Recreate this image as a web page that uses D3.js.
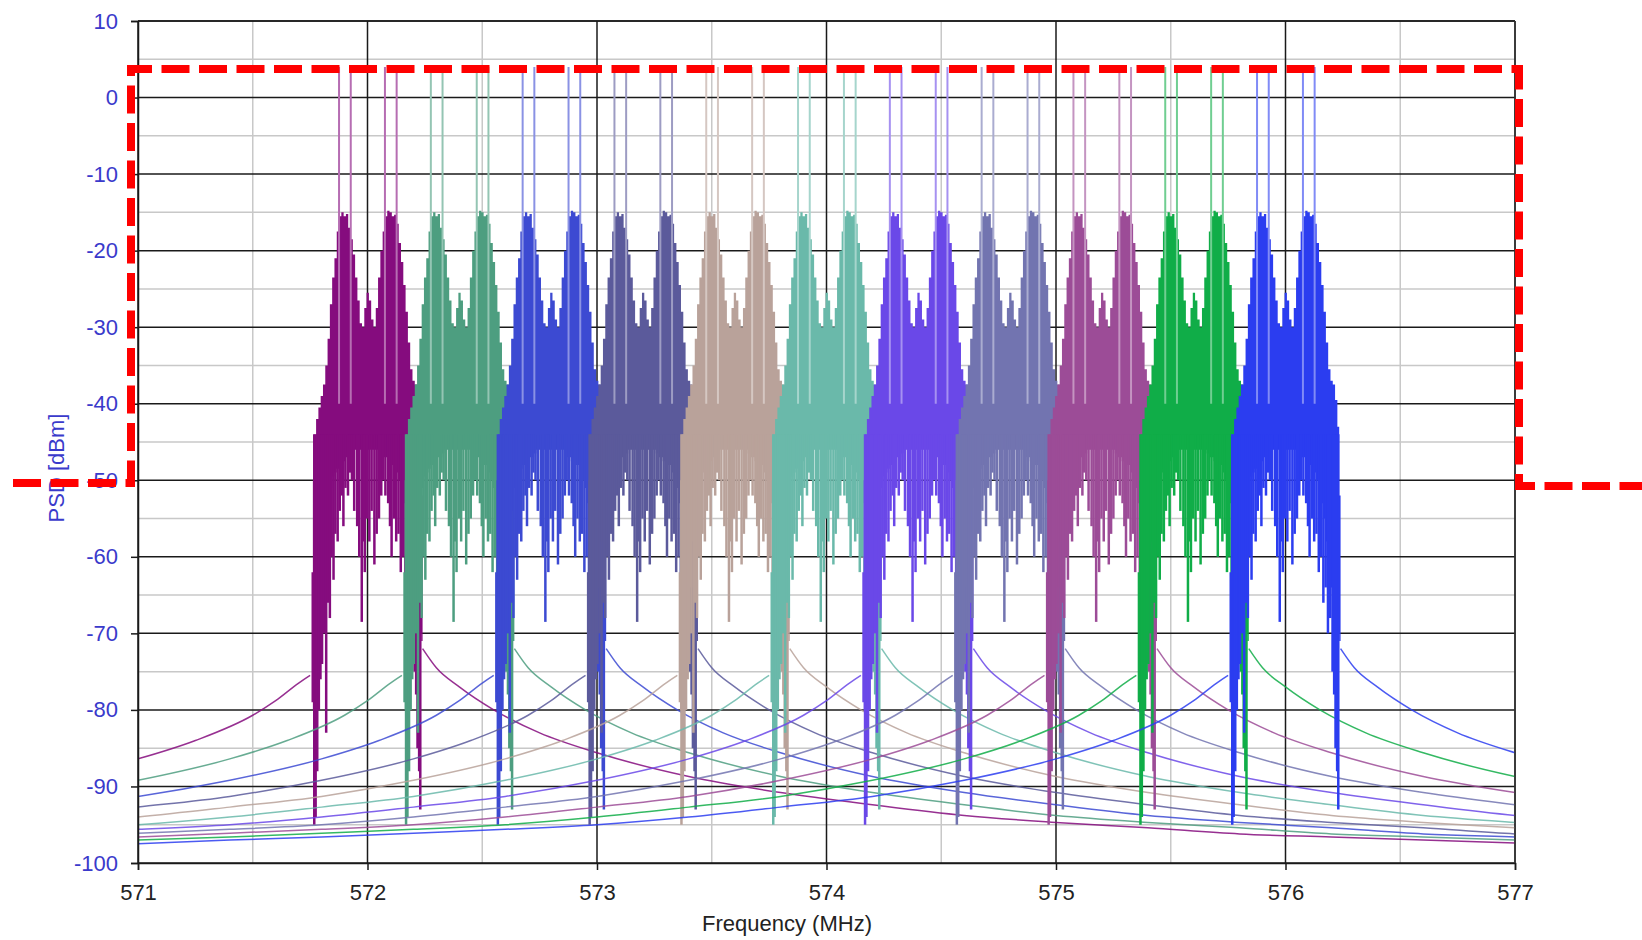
<!DOCTYPE html>
<html>
<head>
<meta charset="utf-8">
<script src="https://cdn.jsdelivr.net/npm/d3@7"></script>
<style>
  html, body { margin: 0; padding: 0; background: #fff; }
  svg { display: block; font-family: Arial, "Liberation Sans", sans-serif; }
</style>
</head>
<body>
<svg id="chart" width="1642" height="940"></svg>
<script>
// channel centres in MHz (one trace per channel)
const channelCenters = [572.0, 572.4, 572.8, 573.2, 573.6, 574.0, 574.4, 574.8, 575.2, 575.6, 576.0]

// occupied band of one channel, offset from its centre (MHz) -> top / floor of the filled trace (dBm)
const bodyOffsets = [-0.250, -0.244, -0.238, -0.232, -0.224, -0.214, -0.204, -0.194, -0.184, -0.174,
  -0.164, -0.154, -0.144, -0.134, -0.124, -0.114, -0.104, -0.094, -0.084, -0.074,
  -0.064, -0.054, -0.044, -0.034, -0.024, -0.014, -0.004, 0.006, 0.016, 0.026,
  0.036, 0.046, 0.056, 0.066, 0.076, 0.086, 0.096, 0.106, 0.116, 0.126,
  0.136, 0.146, 0.156, 0.166, 0.176, 0.186, 0.196, 0.206, 0.216, 0.226, 0.234, 0.240]
const bodyTop = [-75, -62, -50, -45, -42, -40.5, -39, -37.5, -35, -31.5,
  -27, -23.5, -21, -17.5, -15.5, -15, -15.5, -15.2, -17, -18.5,
  -20.5, -23.5, -26.5, -29.5, -30, -27.5, -25.5, -26.5, -29, -30,
  -27.5, -23.5, -20, -17.5, -15.5, -14.8, -15, -15.5, -15.3, -16.5,
  -19, -21.5, -24.5, -28, -32, -35.5, -37, -37.5, -39.5, -43, -52, -72]
const bodyFloor = [-75, -79, -80, -78, -76, -73, -70, -64, -58, -54,
  -51, -49.5, -49, -48.5, -48, -48, -47.5, -47, -47, -46.5,
  -46, -46, -46, -46, -46, -46, -46, -46, -46, -46,
  -46, -46, -46.5, -47, -47, -47.5, -47.5, -48, -48, -49,
  -50, -51, -53, -55, -58, -61, -64, -66, -68, -70, -71, -72]

// downward notches of the noisy trace (offset MHz, lowest level dBm)
const dipOffsets = [-0.232, -0.226, -0.219, -0.212, -0.205, -0.198, -0.189, -0.180, -0.172, -0.164,
  -0.156, -0.148, -0.140, -0.130, -0.121, -0.112, -0.105, -0.096, -0.085, -0.077,
  -0.068, -0.058, -0.045, -0.036, -0.025, -0.018, -0.012, -0.002, 0.008, 0.018,
  0.030, 0.040, 0.050, 0.060, 0.068, 0.078, 0.090, 0.098, 0.105, 0.115,
  0.125, 0.135, 0.145, 0.155, 0.165, 0.175, 0.185, 0.195, 0.205, 0.212,
  0.218, 0.225, 0.230]
const dipLevels = [-95, -94, -88, -80, -76, -74, -70, -83, -66, -68,
  -60, -63, -57, -58, -54, -52, -56, -51, -52, -49,
  -50, -54, -56, -60, -68.5, -58, -62, -55, -58, -54,
  -61, -57, -55, -52, -50, -52, -53, -56, -60, -55,
  -58, -57, -62, -60, -66, -64, -70, -68, -75, -78,
  -85, -88, -93]

// narrow carriers rising out of each channel
const spikeOffsets = [-0.124, -0.073, 0.076, 0.127]
const spikeTop = 4
const spikeBase = -40

// out-of-band skirts: distance from centre (MHz) -> level (dBm)
const skirtLeftDist = [0.25, 0.3, 0.4, 0.5, 0.75, 1.0, 1.4, 1.8, 2.2, 2.6, 3.0, 3.4, 3.8, 4.2, 4.6, 5.0]
const skirtLeftLevel = [-75.5, -76.5, -78.8, -80.7, -84, -86.4, -89.2, -91.3, -92.7, -94.0, -95.0, -95.6, -96.1, -96.6, -97.0, -97.5]
const skirtRightDist = [0.24, 0.3, 0.4, 0.55, 0.75, 1.0, 1.4, 1.8, 2.2, 2.6, 3.0, 3.4, 3.8, 4.2, 4.6, 5.0]
const skirtRightLevel = [-72, -74.5, -77, -80, -83, -85.6, -88.7, -90.8, -92.4, -93.8, -94.7, -95.4, -96.2, -96.6, -97.0, -97.4]

// axes
const xTicks = [571, 572, 573, 574, 575, 576, 577]
const xMinor = [571.5, 572.5, 573.5, 574.5, 575.5, 576.5]
const yTicks = [-100, -90, -80, -70, -60, -50, -40, -30, -20, -10, 0, 10]
const yMinor = [-95, -85, -75, -65, -55, -45, -35, -25, -15, -5, 5]

const palette = ['#850c7e', '#4d9e80', '#3c4ad2', '#5b5a9b', '#b9a29a', '#6ab9aa',
  '#6a48e8', '#7274b0', '#9c4c97', '#10ad48', '#2b3df0']

const margin = { top: 21, right: 127, bottom: 77, left: 138 }
const width = 1642 - margin.left - margin.right
const height = 940 - margin.top - margin.bottom

const svg = d3.select('#chart')
const x = d3.scaleLinear().domain([571, 577]).range([0, width])
const y = d3.scaleLinear().domain([-100, 10]).range([height, 0])

const g = svg.append('g').attr('transform', `translate(${margin.left},${margin.top})`)

g.append('clipPath').attr('id', 'plot-clip')
  .append('rect').attr('width', width).attr('height', height)

renderGrid()
renderChannels()
renderAxes()
renderAnnotation()

function renderGrid () {
  const grid = g.append('g').attr('class', 'grid')
  grid.selectAll('line.minor-x').data(xMinor).enter().append('line')
    .attr('x1', d => x(d)).attr('x2', d => x(d)).attr('y1', 0).attr('y2', height)
    .attr('stroke', '#c8c8c8').attr('stroke-width', 1.5)
  grid.selectAll('line.minor-y').data(yMinor).enter().append('line')
    .attr('x1', 0).attr('x2', width).attr('y1', d => y(d)).attr('y2', d => y(d))
    .attr('stroke', '#c8c8c8').attr('stroke-width', 1.5)
  grid.selectAll('line.major-x').data(xTicks).enter().append('line')
    .attr('x1', d => x(d)).attr('x2', d => x(d)).attr('y1', 0).attr('y2', height)
    .attr('stroke', '#1a1a1a').attr('stroke-width', 1.5)
  grid.selectAll('line.major-y').data(yTicks).enter().append('line')
    .attr('x1', 0).attr('x2', width).attr('y1', d => y(d)).attr('y2', d => y(d))
    .attr('stroke', '#1a1a1a').attr('stroke-width', 1.5)
}

function renderChannels () {
  const layer = g.append('g').attr('clip-path', 'url(#plot-clip)')
  const body = bodyOffsets.map((o, i) => ({ o, top: bodyTop[i], floor: bodyFloor[i] }))
  const line = d3.line().x(d => x(d[0])).y(d => y(d[1])).curve(d3.curveMonotoneX)

  channelCenters.forEach((c, k) => {
    const color = palette[k]
    const light = d3.interpolateRgb(color, '#ffffff')(0.4)
    const ch = layer.append('g').attr('class', `channel channel--${k}`)

    // skirts
    const left = skirtLeftDist.map((d, i) => [c - d, skirtLeftLevel[i]]).reverse()
    const right = skirtRightDist.map((d, i) => [c + d, skirtRightLevel[i]])
    ch.selectAll('path.skirt').data([left, right]).enter().append('path')
      .attr('class', 'skirt')
      .attr('d', line)
      .attr('fill', 'none')
      .attr('stroke', color)
      .attr('stroke-width', 1.5)
      .attr('stroke-opacity', 0.85)

    // filled band
    const area = d3.area()
      .x(d => x(c + d.o))
      .y0(d => y(d.floor))
      .y1(d => y(d.top))
      .curve(d3.curveStepAfter)
    ch.append('path').attr('d', area(body)).attr('fill', color)

    // notches
    ch.selectAll('line.dip').data(dipOffsets).enter().append('line')
      .attr('class', 'dip')
      .attr('x1', d => x(c + d)).attr('x2', d => x(c + d))
      .attr('y1', y(-44))
      .attr('y2', (d, i) => y(dipLevels[i]))
      .attr('stroke', color)
      .attr('stroke-width', 2.5)

    // carriers
    ch.selectAll('line.spike').data(spikeOffsets).enter().append('line')
      .attr('class', 'spike')
      .attr('x1', d => x(c + d)).attr('x2', d => x(c + d))
      .attr('y1', y(spikeBase)).attr('y2', y(spikeTop))
      .attr('stroke', light)
      .attr('stroke-width', 2)
  })
}

function renderAxes () {
  const fmt = d => String(d)
  const yAxis = g.append('g')
    .call(d3.axisLeft(y).tickValues(yTicks).tickFormat(fmt).tickSize(7).tickPadding(13))
  yAxis.select('.domain').attr('stroke', '#1a1a1a').attr('stroke-width', 1.5)
  yAxis.selectAll('.tick line').attr('stroke', '#1a1a1a').attr('stroke-width', 1.5)
  yAxis.selectAll('.tick text').attr('fill', '#3a3acb').attr('font-size', 22)
    .attr('font-family', 'Arial, "Liberation Sans", sans-serif')

  const xAxis = g.append('g').attr('transform', `translate(0,${height})`)
    .call(d3.axisBottom(x).tickValues(xTicks).tickFormat(fmt).tickSize(7).tickPadding(14))
  xAxis.select('.domain').attr('stroke', '#1a1a1a').attr('stroke-width', 1.5)
  xAxis.selectAll('.tick line').attr('stroke', '#1a1a1a').attr('stroke-width', 1.5)
  xAxis.selectAll('.tick text').attr('fill', '#222').attr('font-size', 22)
    .attr('font-family', 'Arial, "Liberation Sans", sans-serif')

  // frame top and right
  g.append('line').attr('x1', 0).attr('x2', width).attr('y1', 0).attr('y2', 0)
    .attr('stroke', '#1a1a1a').attr('stroke-width', 1.5)
  g.append('line').attr('x1', width).attr('x2', width).attr('y1', 0).attr('y2', height)
    .attr('stroke', '#333').attr('stroke-width', 1.5)

  svg.append('text')
    .attr('x', 787).attr('y', 931)
    .attr('text-anchor', 'middle')
    .attr('font-size', 22)
    .attr('fill', '#222')
    .text('Frequency (MHz)')

  svg.append('text')
    .attr('transform', 'translate(64,468) rotate(-90)')
    .attr('text-anchor', 'middle')
    .attr('font-size', 22)
    .attr('fill', '#3a3acb')
    .text('PSD [dBm]')
}

function renderAnnotation () {
  // red dashed highlight box drawn over the chart
  const pts = [[13, 483], [131, 483], [131, 69], [1519, 69], [1519, 486], [1642, 486]]
  svg.append('path')
    .attr('d', d3.line()(pts))
    .attr('fill', 'none')
    .attr('stroke', '#ff0000')
    .attr('stroke-width', 8)
    .attr('stroke-dasharray', '28 9.5')
    .attr('stroke-linejoin', 'miter')
}
</script>
</body>
</html>
